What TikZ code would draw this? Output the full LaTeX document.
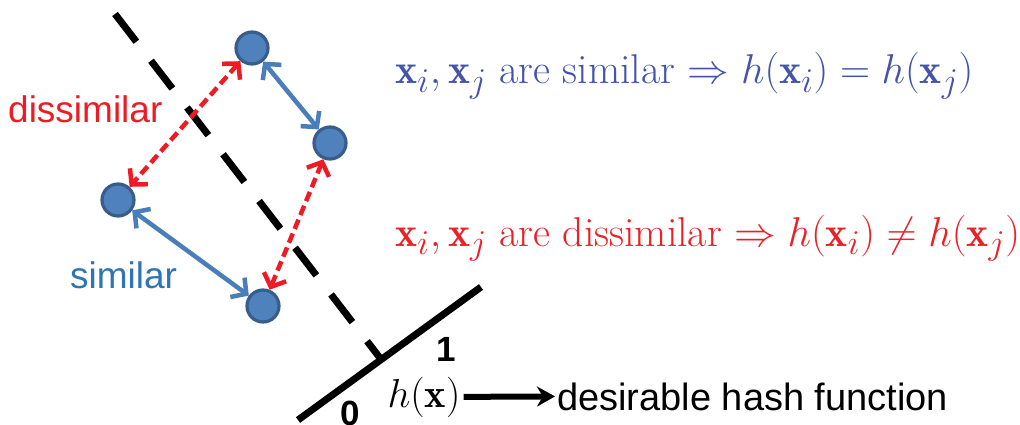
\documentclass[tikz,border=0pt]{standalone}
\usepackage{fontspec}
\setsansfont{Liberation Sans}
\usetikzlibrary{arrows.meta}
\definecolor{nodefill}{RGB}{79,129,189}
\definecolor{nodedraw}{RGB}{56,93,138}
\definecolor{simblue}{RGB}{74,126,187}
\definecolor{labblue}{RGB}{46,117,182}
\definecolor{fblue}{RGB}{68,84,170}
\definecolor{dred}{RGB}{237,28,36}
\definecolor{fred}{RGB}{232,34,40}
\tikzset{
  pt/.style={circle, fill=nodefill, draw=nodedraw, line width=3.2pt, minimum size=32pt, inner sep=0pt},
  simarrow/.style={draw=simblue, line width=4.5pt, {Straight Barb[length=11pt,width=24pt]}-{Straight Barb[length=11pt,width=24pt]}},
  disarrow/.style={draw=dred, line width=4.5pt, dash pattern=on 10pt off 5pt, {Straight Barb[length=11pt,width=24pt]}-{Straight Barb[length=11pt,width=24pt]}},
  sflabel/.style={font=\sffamily\fontsize{37}{44}\selectfont, inner sep=0pt, anchor=base west},
  mathlabel/.style={font=\Huge, scale=1.675, inner sep=0pt, anchor=base west},
  bigline/.style={line width=7pt},
  digit/.style={font=\sffamily\bfseries\fontsize{35}{40}\selectfont, inner sep=0pt}
}
\begin{document}
\begin{tikzpicture}[x=1pt,y=-1pt]
\useasboundingbox (0,0) rectangle (1020,425);
% hyperplane
\coordinate (s0) at (298,420);
\coordinate (s1) at (481,287);
\draw[bigline] (s0) -- (s1);
\coordinate (d0) at (115,14);
\coordinate (foot) at (380,358);
\draw[bigline, dash pattern=on 35pt off 24pt] (d0) -- (foot);
% points
\node[pt] (a) at (252,48) {};
\node[pt] (b) at (330,143) {};
\node[pt] (c) at (118,200) {};
\node[pt] (d) at (263,306) {};
% connectors
\draw[simarrow] (a) -- (b);
\draw[simarrow] (c) -- (d);
\draw[disarrow] (a) -- (c);
\draw[disarrow] (b) -- (d);
% labels
\node[sflabel, text=dred] (dis) at (8,123) {dissimilar};
\node[sflabel, text=labblue] (sim) at (70,288) {similar};
\node[mathlabel, text=fblue] (f1) at (395,84) {$\mathbf{x}_i,\mathbf{x}_j$ are similar $\Rightarrow h(\mathbf{x}_i)=h(\mathbf{x}_j)$};
\node[mathlabel, text=fred] (f2) at (395,246) {$\mathbf{x}_i,\mathbf{x}_j$ are dissimilar $\Rightarrow h(\mathbf{x}_i)\neq h(\mathbf{x}_j)$};
\node[digit] (one) at (446,349) {1};
\node[digit] (zero) at (350,413) {0};
\node[mathlabel, anchor=base, scale=0.97] (hx) at (424,407) {$h(\mathbf{x})$};
\node[sflabel, font=\sffamily\fontsize{38}{44}\selectfont] (desc) at (557,410) {desirable hash function};
\draw[line width=6pt, -{Stealth[length=18pt,width=20pt]}, shorten <=3pt, shorten >=2pt] (hx.east) -- (desc.west);
\end{tikzpicture}
\end{document}
